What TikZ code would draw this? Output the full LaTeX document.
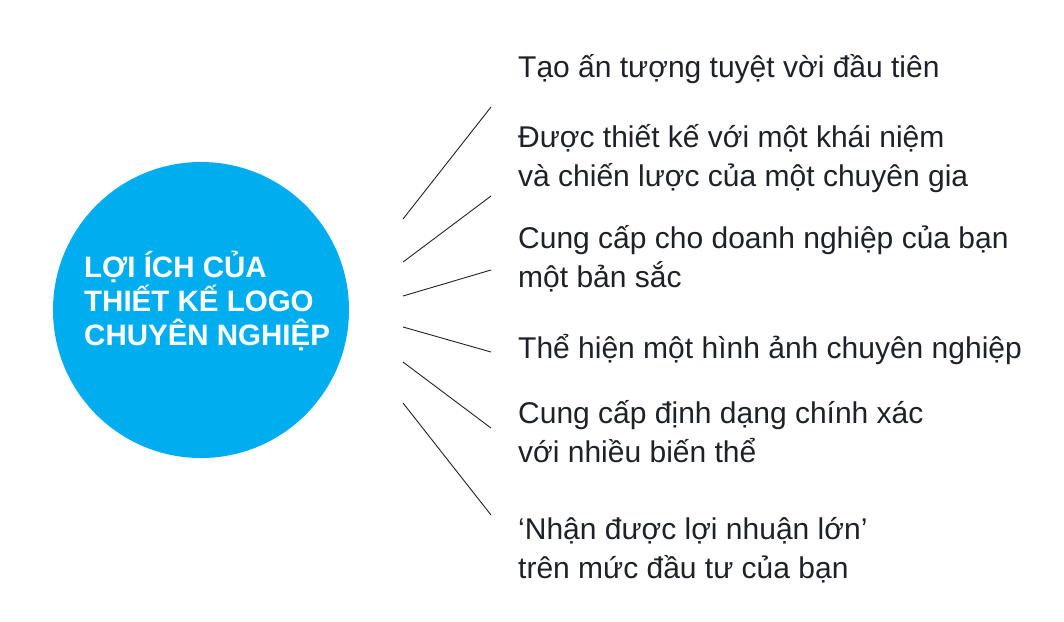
\documentclass[tikz,border=0pt]{standalone}
\usepackage{fontspec}
\setmainfont{Liberation Sans}
\definecolor{bubble}{HTML}{00AEEF}
\definecolor{ink}{HTML}{1D2228}
\begin{document}
\begin{tikzpicture}[x=1pt,y=-1pt,
  item/.style={anchor=base west,inner sep=0pt,align=left,text=ink,font=\fontsize{30}{38.5}\selectfont},
  conn/.style={draw=ink,line width=0.9pt},
  title/.style={anchor=base west,inner sep=0pt,align=left,text=white,font=\bfseries\fontsize{29.5}{34}\selectfont}]
\useasboundingbox (0,0) rectangle (1064,621);
\fill[bubble] (201,310) circle (148);
% note: multi-line nodes are placed by the baseline of their last line
\node[title] (c) at (84,345) {LỢI ÍCH CỦA\\THIẾT KẾ LOGO\\CHUYÊN NGHIỆP};
\node[item] (t1) at (518,77) {Tạo ấn tượng tuyệt vời đầu tiên};
\node[item] (t2) at (518,186) {Được thiết kế với một khái niệm\\và chiến lược của một chuyên gia};
\node[item] (t3) at (518,287) {Cung cấp cho doanh nghiệp của bạn\\một bản sắc};
\node[item] (t4) at (518,358) {Thể hiện một hình ảnh chuyên nghiệp};
\node[item] (t5) at (518,462) {Cung cấp định dạng chính xác\\với nhiều biến thể};
\node[item] (t6) at (518,578) {‘Nhận được lợi nhuận lớn’\\trên mức đầu tư của bạn};
\coordinate (s1) at (403,219); \coordinate (e1) at (491,107);
\coordinate (s2) at (403,262); \coordinate (e2) at (491,196);
\coordinate (s3) at (403,296); \coordinate (e3) at (491,270);
\coordinate (s4) at (403,327); \coordinate (e4) at (491,352);
\coordinate (s5) at (403,362); \coordinate (e5) at (491,428);
\coordinate (s6) at (403,403); \coordinate (e6) at (491,515);
\foreach \i in {1,...,6} \draw[conn] (s\i) -- (e\i);
\end{tikzpicture}
\end{document}
